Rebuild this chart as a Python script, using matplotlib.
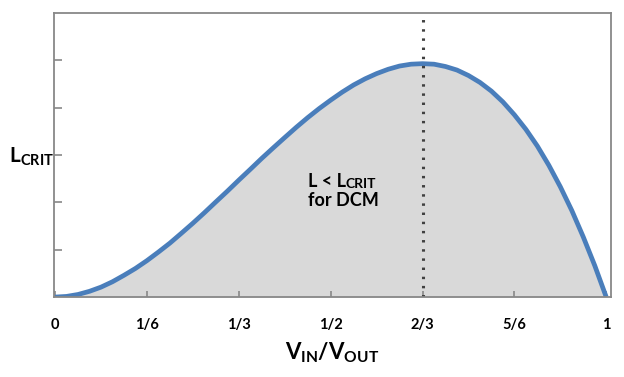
import numpy as np
import matplotlib
matplotlib.use('Agg')
import matplotlib.pyplot as plt

plt.rcParams['font.family'] = ['Lato', 'DejaVu Sans']
plt.rcParams['mathtext.fontset'] = 'custom'
plt.rcParams['mathtext.rm'] = 'Lato'
plt.rcParams['mathtext.it'] = 'Lato'
plt.rcParams['mathtext.bf'] = 'Lato:bold'

# V_IN/V_OUT ratio (steps of 1/48) and critical inductance (arbitrary units)
ratio = [i / 48 for i in range(49)]
l_crit = [0.0, 0.014, 0.055, 0.122, 0.21, 0.324, 0.46, 0.605, 0.77, 0.951,
          1.14, 1.348, 1.56, 1.781, 2.01, 2.236, 2.47, 2.698, 2.93, 3.152,
          3.37, 3.585, 3.79, 3.982, 4.16, 4.328, 4.48, 4.61, 4.72, 4.811,
          4.88, 4.919, 4.93, 4.919, 4.87, 4.795, 4.68, 4.534, 4.35, 4.122,
          3.85, 3.543, 3.19, 2.784, 2.33, 1.829, 1.27, 0.665, 0.0]
peak_ratio = 2/3
tick_pos = [0, 1/6, 1/3, 1/2, 2/3, 5/6, 1]
tick_lbl = ['0', '1/6', '1/3', '1/2', '2/3', '5/6', '1']

fig = plt.figure(figsize=(6.24, 3.77), dpi=100)
ax = fig.add_axes([0.0865, 0.212, 0.893, 0.7535])

ax.fill_between(ratio, l_crit, 0, color='#d9d9d9', lw=0)
ax.plot(ratio, l_crit, color='#4a7ebb', lw=3.4, solid_capstyle='butt')
ax.axvline(peak_ratio, color='#404040', lw=2.2, ls=(0, (0.8, 2.2)))

ax.set_xlim(-0.002, 1.009)
ax.set_ylim(0, 6)
ax.set_xticks(tick_pos)
ax.set_xticklabels(tick_lbl, fontweight='bold', fontsize=10.5)
ax.set_yticks([1, 2, 3, 4, 5])
ax.set_yticklabels([])
ax.tick_params(axis='both', direction='in', color='#888888', width=1.2)
ax.tick_params(axis='x', length=4, pad=15)
ax.tick_params(axis='y', length=6)
for s in ax.spines.values():
    s.set_color('#888888')
    s.set_linewidth(1.3)

ax.set_xlabel(r'$\mathbf{V}_{\mathbf{IN}}\mathbf{/V}_{\mathbf{OUT}}$', fontsize=16, labelpad=6)
fig.text(0.014, 0.583, r'$\mathbf{L}_{\mathbf{CRIT}}$', fontsize=15, va='center', ha='left')

t1 = ax.text(0.458, 2.32, 'L < L', fontsize=13, fontweight='bold', va='baseline')
ax.annotate('CRIT', xy=(1, 0), xycoords=t1, fontsize=10, fontweight='bold',
            va='bottom', ha='left')
ax.text(0.458, 1.92, 'for DCM', fontsize=13, fontweight='bold', va='baseline')

fig.savefig('out.png', dpi=100)
